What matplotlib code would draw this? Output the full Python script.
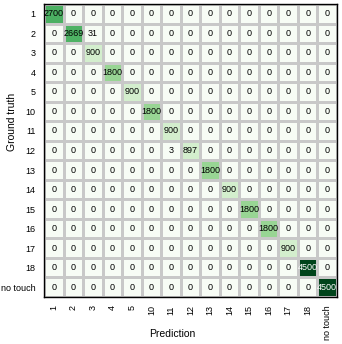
import numpy as np
import matplotlib.pyplot as plt

plt.rcParams['font.family'] = ['Liberation Sans', 'DejaVu Sans']

labels = ['1', '2', '3', '4', '5', '10', '11', '12', '13', '14',
          '15', '16', '17', '18', 'no touch']

# diagonal counts and the few off-diagonal confusions
diag = [2700, 2669, 900, 1800, 900, 1800, 900, 897, 1800, 900,
        1800, 1800, 900, 4500, 4500]
off_diag = [(1, 2, 31), (7, 6, 3)]  # (row, col, count)

n = len(labels)
cm = np.zeros((n, n), dtype=int)
for i, v in enumerate(diag):
    cm[i, i] = v
for r, c, v in off_diag:
    cm[r, c] = v

fig = plt.figure(figsize=(3.42, 3.44), dpi=100)
ax = fig.add_axes([44 / 342, 1 - 297 / 344, 293 / 342, 293 / 344])

ax.pcolormesh(np.arange(n + 1), np.arange(n + 1), cm, cmap='Greens',
              vmin=0, vmax=4500, edgecolors='#c8c8c8', linewidth=0.8)
ax.set_xlim(0, n)
ax.set_ylim(n, 0)

for i in range(n):
    for j in range(n):
        v = cm[i, j]
        color = 'white' if v > 3500 else 'black'
        ax.text(j + 0.5, i + 0.5, str(v), ha='center', va='center',
                fontsize=6.5, color=color)

ax.set_xticks(np.arange(n) + 0.5)
ax.set_yticks(np.arange(n) + 0.5)
ax.set_xticklabels(labels, rotation=90, fontsize=6.5)
ax.set_yticklabels(labels, fontsize=6.5)
ax.tick_params(length=0, pad=6)
for s in ax.spines.values():
    s.set_linewidth(1.0)
    s.set_color('black')

ax.set_xlabel('Prediction', fontsize=7.5)
ax.set_ylabel('Ground truth', fontsize=7.5)
ax.xaxis.set_label_coords(0.437, -0.109)
ax.yaxis.set_label_coords(-0.092, 0.597)

fig.savefig('out.png', dpi=100)
